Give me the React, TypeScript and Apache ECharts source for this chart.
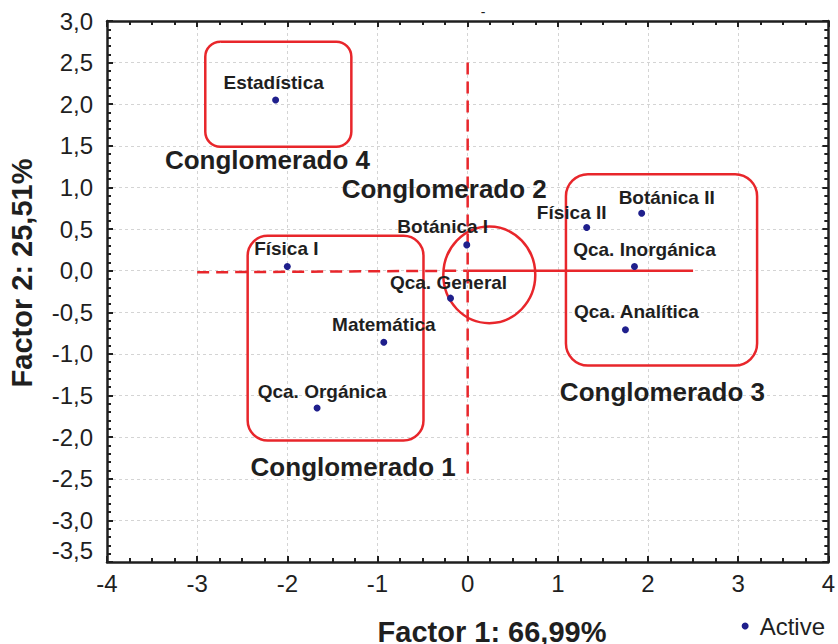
import { useEffect, useRef } from "react";
import * as echarts from "echarts";

// ---- data ----
const pointNames = [
  "Estadística",
  "Física I",
  "Matemática",
  "Qca. Orgánica",
  "Botánica I",
  "Qca. General",
  "Física II",
  "Botánica II",
  "Qca. Inorgánica",
  "Qca. Analítica",
];
const factor1 = [-2.13, -2.0, -0.93, -1.67, -0.01, -0.19, 1.32, 1.93, 1.85, 1.75];
const factor2 = [2.05, 0.05, -0.86, -1.65, 0.31, -0.33, 0.52, 0.69, 0.05, -0.71];

// cluster boxes [x1, y1, x2, y2] in factor units
const clusterBoxes: number[][] = [
  [-2.91, 2.75, -1.29, 1.49],
  [-2.44, 0.42, -0.49, -2.04],
  [1.09, 1.16, 3.21, -1.14],
];
// cluster circle [cx, cy, rx, ry] in factor units
const clusterCircle = [0.24, -0.05, 0.51, 0.58];
const clusterNames = ["Conglomerado 1", "Conglomerado 2", "Conglomerado 3", "Conglomerado 4"];
const clusterLabelX = [-1.27, -0.26, 2.16, -2.22];
const clusterLabelY = [-2.36, 0.98, -1.46, 1.33];

const yTicks = { min: -3.5, max: 3.0, step: 0.5 };
const xTicks = { min: -4, max: 4, step: 1 };

// label nudges (px)
const labelShift: number[][] = [
  [-2, 0], [-1, 0], [0, 0], [5, 1], [-24, 0],
  [-2, 2], [-15, 3], [25, 2], [10, 1], [11, 0],
];

const RED = "#e8262b";
const INK = "#1f1f1f";
const FONT = "'Liberation Sans', Arial, sans-serif";

export default function App() {
  const ref = useRef<HTMLDivElement>(null);
  useEffect(() => {
    if (!ref.current) return;
    const chart = echarts.init(ref.current, undefined, { renderer: "svg" });

    const frameLine = { lineStyle: { color: INK, width: 2.5 } };
    const tick = { inside: true, length: 6, lineStyle: { color: INK, width: 2 } };

    const renderShapes = (params: any, api: any) => {
      const c = (x: number, y: number) => api.coord([x, y]);
      const children: any[] = [];
      const radii = [15, 20, 22];
      clusterBoxes.forEach((b, i) => {
        const p1 = c(b[0], b[1]);
        const p2 = c(b[2], b[3]);
        children.push({
          type: "rect",
          shape: { x: p1[0], y: p1[1], width: p2[0] - p1[0], height: p2[1] - p1[1], r: radii[i] },
          style: { fill: "none", stroke: RED, lineWidth: 2.5 },
        });
      });
      const cc = c(clusterCircle[0], clusterCircle[1]);
      const sz = api.size([clusterCircle[2], clusterCircle[3]]);
      children.push({
        type: "ellipse",
        shape: { cx: cc[0], cy: cc[1], rx: sz[0], ry: sz[1] },
        style: { fill: "none", stroke: RED, lineWidth: 2.5 },
      });
      // dashed horizontal
      const h1 = c(-3.0, -0.02);
      const h2 = c(0, 0);
      const h3 = c(2.5, 0);
      children.push({
        type: "line",
        shape: { x1: h1[0], y1: h1[1], x2: h2[0], y2: h2[1] },
        style: { stroke: RED, lineWidth: 2.5, lineDash: [12, 7] },
      });
      children.push({
        type: "line",
        shape: { x1: h2[0], y1: h2[1], x2: h3[0], y2: h3[1] },
        style: { stroke: RED, lineWidth: 2.5 },
      });
      const v1 = c(0, 2.5);
      const v2 = c(0, -2.5);
      children.push({
        type: "line",
        shape: { x1: v1[0], y1: v1[1], x2: v2[0], y2: v2[1] },
        style: { stroke: RED, lineWidth: 2.5, lineDash: [12, 7] },
      });
      clusterNames.forEach((n, i) => {
        const p = c(clusterLabelX[i], clusterLabelY[i]);
        children.push({
          type: "text",
          x: p[0],
          y: p[1],
          style: {
            text: n,
            fill: INK,
            font: `bold 26px ${FONT}`,
            align: "center",
            verticalAlign: "middle",
          },
        });
      });
      return { type: "group", children };
    };

    chart.setOption({
      animation: false,
      textStyle: { fontFamily: FONT },
      grid: { left: 107, right: 9, top: 21, bottom: 82, containLabel: false },
      legend: {
        data: ["Active"],
        icon: "circle",
        itemWidth: 7,
        itemHeight: 7,
        right: 8,
        top: 609,
        textStyle: { fontSize: 24, color: INK, fontFamily: FONT, padding: [0, 0, 0, 6] },
      },
      xAxis: [
        {
          type: "value",
          position: "bottom",
          min: xTicks.min,
          max: xTicks.max,
          interval: xTicks.step,
          axisLine: { onZero: false, ...frameLine },
          axisTick: tick,
          minorTick: { show: true, splitNumber: 4, length: 4, lineStyle: { color: INK, width: 2 } },
          splitLine: { show: true, lineStyle: { color: "#d4d4d4", type: [3, 3], width: 1 } },
          axisLabel: { fontSize: 24, color: INK, margin: 9, formatter: (v: number) => String(v) },
        },
        {
          type: "value",
          position: "top",
          min: xTicks.min,
          max: xTicks.max,
          interval: xTicks.step,
          axisLine: { onZero: false, ...frameLine },
          axisTick: tick,
          minorTick: { show: true, splitNumber: 4, length: 4, lineStyle: { color: INK, width: 2 } },
          splitLine: { show: false },
          axisLabel: { show: false },
        },
      ],
      yAxis: [
        {
          type: "value",
          position: "left",
          min: yTicks.min,
          max: yTicks.max,
          interval: yTicks.step,
          axisLine: { onZero: false, ...frameLine },
          axisTick: tick,
          minorTick: { show: true, splitNumber: 5, length: 4, lineStyle: { color: INK, width: 2 } },
          splitLine: { show: true, lineStyle: { color: "#d4d4d4", type: [3, 3], width: 1 } },
          axisLabel: {
            fontSize: 24,
            color: INK,
            margin: 14,
            verticalAlignMinLabel: "bottom",
            formatter: (v: number) => v.toFixed(1).replace(".", ","),
          },
        },
        {
          type: "value",
          position: "right",
          min: yTicks.min,
          max: yTicks.max,
          interval: yTicks.step,
          axisLine: { onZero: false, ...frameLine },
          axisTick: tick,
          minorTick: { show: true, splitNumber: 5, length: 4, lineStyle: { color: INK, width: 2 } },
          splitLine: { show: false },
          axisLabel: { show: false },
        },
      ],
      series: [
        {
          type: "custom",
          name: "shapes",
          xAxisIndex: 0,
          yAxisIndex: 0,
          clip: false,
          silent: true,
          data: [[0, 0]],
          renderItem: renderShapes,
          z: 2,
        },
        {
          type: "scatter",
          name: "Active",
          xAxisIndex: 0,
          yAxisIndex: 0,
          symbol: "circle",
          symbolSize: 7,
          itemStyle: { color: "#1f1f8c", opacity: 1 },
          z: 3,
          label: {
            show: true,
            position: "top",
            distance: 5,
            formatter: (p: any) => p.name,
            fontSize: 19,
            fontWeight: "bold",
            color: INK,
          },
          data: factor1.map((x, i) => ({
            name: pointNames[i],
            value: [x, factor2[i]],
            label: { offset: labelShift[i] },
          })),
        },
      ],
      graphic: [
        {
          type: "text",
          x: 492,
          y: 632,
          style: {
            text: "Factor 1: 66,99%",
            font: `bold 29px ${FONT}`,
            fill: INK,
            align: "center",
            verticalAlign: "middle",
          },
        },
        {
          type: "text",
          x: 22,
          y: 273,
          rotation: Math.PI / 2,
          style: {
            text: "Factor 2: 25,51%",
            font: `bold 29px ${FONT}`,
            fill: INK,
            align: "center",
            verticalAlign: "middle",
          },
        },
        {
          type: "text",
          x: 483,
          y: 12,
          style: { text: "-", font: `14px ${FONT}`, fill: INK, align: "center", verticalAlign: "middle" },
        },
      ],
    });
    return () => chart.dispose();
  }, []);
  return (
    <div
      ref={ref}
      style={{ position: "fixed", left: 0, top: 0, width: 838, height: 644, background: "#fff" }}
    />
  );
}
